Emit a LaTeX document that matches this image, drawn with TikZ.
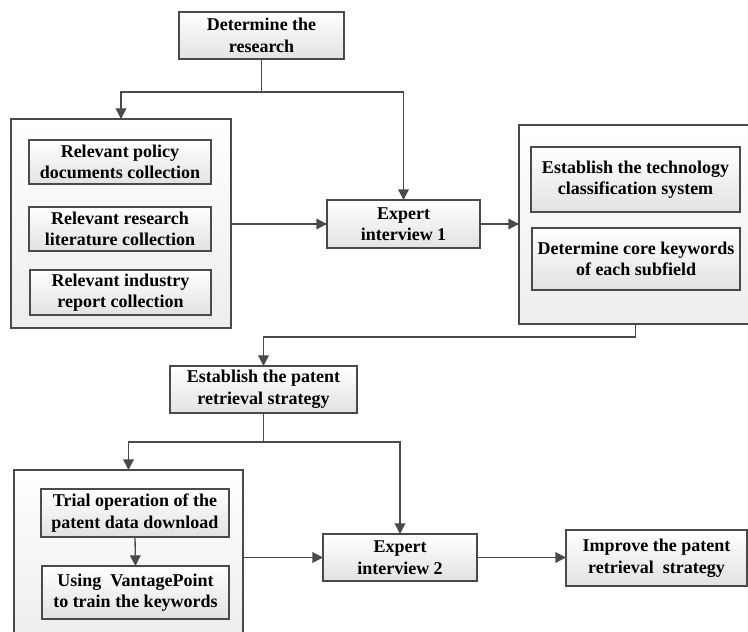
\documentclass[tikz,border=0pt]{standalone}
\usepackage{fontspec}
\setmainfont{Liberation Serif}
\usetikzlibrary{arrows.meta}
\definecolor{edge}{HTML}{4A4A4A}
\definecolor{boxbot}{HTML}{E2E2E2}
\definecolor{grpbot}{HTML}{EDEDED}
\tikzset{
  every node/.style={inner sep=0pt, outer sep=0pt},
  stepbox/.style={draw=edge, line width=0.9pt, top color=white, bottom color=boxbot,
    align=center, font=\bfseries\fontsize{13.5}{16.2}\selectfont},
  groupbox/.style={draw=edge, line width=0.9pt, top color=white, bottom color=grpbot},
  arr/.style={draw=edge, line width=1pt, -{Triangle[length=8pt,width=8pt]}},
  link/.style={draw=edge, line width=1pt}
}
\begin{document}
\begin{tikzpicture}[x=0.75pt, y=-0.75pt]
\useasboundingbox (0,0) rectangle (748,631);
\clip (0,0) rectangle (748,631);
\fill[white] (0,0) rectangle (748,631);

% top step
\node[stepbox, minimum width=123.75pt, minimum height=35.25pt] (det) at (261.5,35.5) {Determine the\\research};

% group of collected material
\node[groupbox, minimum width=165pt, minimum height=156.75pt] (g1) at (121,223.5) {};
\node[stepbox, minimum width=136.5pt, minimum height=33pt] (pol) at (120,162) {Relevant policy\\documents collection};
\node[stepbox, minimum width=136.5pt, minimum height=33pt] (lit) at (120,229) {Relevant research\\literature collection};
\node[stepbox, minimum width=135.75pt, minimum height=33.75pt] (ind) at (120.5,292.5) {Relevant industry\\report collection};

% first interview
\node[stepbox, minimum width=114.75pt, minimum height=36pt] (e1) at (403.5,224) {Expert\\interview 1};

% classification group
\node[groupbox, minimum width=174.75pt, minimum height=149.25pt] (g2) at (635.5,224.5) {};
\node[stepbox, minimum width=156.75pt, minimum height=48.75pt] (tech) at (635.5,179.5) {Establish the technology\\classification system};
\node[stepbox, minimum width=156pt, minimum height=46.5pt] (core) at (636,259) {Determine core keywords\\of each subfield};

% retrieval strategy
\node[stepbox, minimum width=140.25pt, minimum height=35.25pt] (pat) at (263.5,389.5) {Establish the patent\\retrieval strategy};

% trial group
\node[groupbox, minimum width=171.75pt, minimum height=127.5pt] (g3) at (128.5,555) {};
\node[stepbox, minimum width=141pt, minimum height=36pt] (trial) at (135,513) {Trial operation of the\\patent data download};
\node[stepbox, minimum width=140.25pt, minimum height=39.75pt] (vp) at (135.5,592.5) {Using\ \ VantagePoint\\to train the keywords};

% second interview and result
\node[stepbox, minimum width=115.5pt, minimum height=35.25pt] (e2) at (400,557.5) {Expert\\interview 2};
\node[stepbox, minimum width=135.75pt, minimum height=42pt] (imp) at (656.5,558) {Improve the patent\\retrieval\ \ strategy};

% junctions
\coordinate (j1) at (261.5,92);
\coordinate (j2) at (635.5,337);
\coordinate (j3) at (263.5,442);

% connectors
\draw[link] (det.south) -- (j1);
\draw[arr] (j1) -| (g1.north);
\draw[arr] (j1) -| (e1.north);
\draw[arr] (g1.east |- e1.west) -- (e1.west);
\draw[arr] (e1.east) -- (g2.west |- e1.east);
\draw[link] (g2.south) -- (j2);
\draw[arr] (j2) -| (pat.north);
\draw[link] (pat.south) -- (j3);
\draw[arr] (j3) -| (g3.north);
\draw[arr] (j3) -| (e2.north);
\draw[arr] (trial.south) -- (vp.north);
\draw[arr] (g3.east |- e2.west) -- (e2.west);
\draw[arr] (e2.east) -- (imp.west |- e2.east);
\end{tikzpicture}
\end{document}
